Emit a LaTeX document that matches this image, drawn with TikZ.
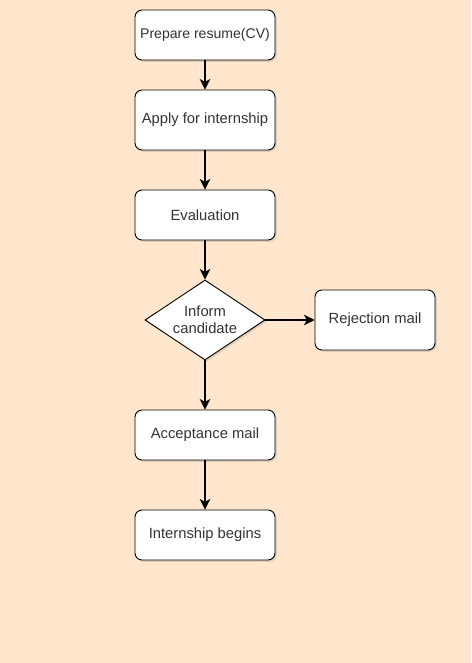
\documentclass[tikz,border=0pt]{standalone}
\usepackage{fontspec}
\setmainfont{Liberation Sans}
\usetikzlibrary{shapes.geometric}
\usetikzlibrary{arrows.meta}
\usetikzlibrary{shadows}
\definecolor{peach}{HTML}{FFE6CC}
\definecolor{textgray}{HTML}{333333}
\def\colx{6.15}

\begin{document}
\begin{tikzpicture}[line width=0.8pt, font=\fontsize{12.6}{14.5}\selectfont]
	\tikzstyle{process}=[rectangle, draw=black, fill=white, rounded corners=6pt, minimum width=4.2cm, minimum height=1.5cm, inner sep=0pt, text=textgray, drop shadow={shadow xshift=1.5pt, shadow yshift=-1.5pt, opacity=0.25}]
	\tikzstyle{small process}=[process, font=\fontsize{12}{14}\selectfont]
	\tikzstyle{tall process}=[process, minimum height=1.8cm]
	\tikzstyle{side process}=[tall process, minimum width=3.6cm]
	\tikzstyle{decision}=[diamond, draw=black, fill=white, aspect=1.5, minimum width=3.6cm, minimum height=2.4cm, inner sep=0pt, text=textgray, align=center, drop shadow={shadow xshift=1.5pt, shadow yshift=-1.5pt, opacity=0.25}]
	\tikzstyle{flow}=[draw=black, line width=1.5pt, -{Stealth[length=9pt, width=9pt, inset=2.5pt]}]
	
	% Background
	\fill[peach] (0,0) rectangle (14.13,-19.89);
	\useasboundingbox (0,0) rectangle (14.13,-19.89);
	
	% Draw the main column of steps
	\foreach \name / \y / \kind / \txt in {cv/1.05/small process/Prepare resume(CV), apply/3.6/tall process/Apply for internship, eval/6.45/process/Evaluation, accept/13.05/process/Acceptance mail, begins/16.05/process/Internship begins}
	\node[\kind] (\name) at (\colx,-\y) {\txt};
	
	% Draw the decision and the side branch
	\node[decision] (inform) at (\colx,-9.6) {Inform\\candidate};
	\node[side process] (reject) at (11.25,-9.6) {Rejection mail};
	
	% Connect the steps
	\foreach \source / \dest in {cv/apply, apply/eval, eval/inform, inform/accept, accept/begins, inform/reject}
	\draw[flow] (\source) -- (\dest);
	
\end{tikzpicture}
\end{document}
